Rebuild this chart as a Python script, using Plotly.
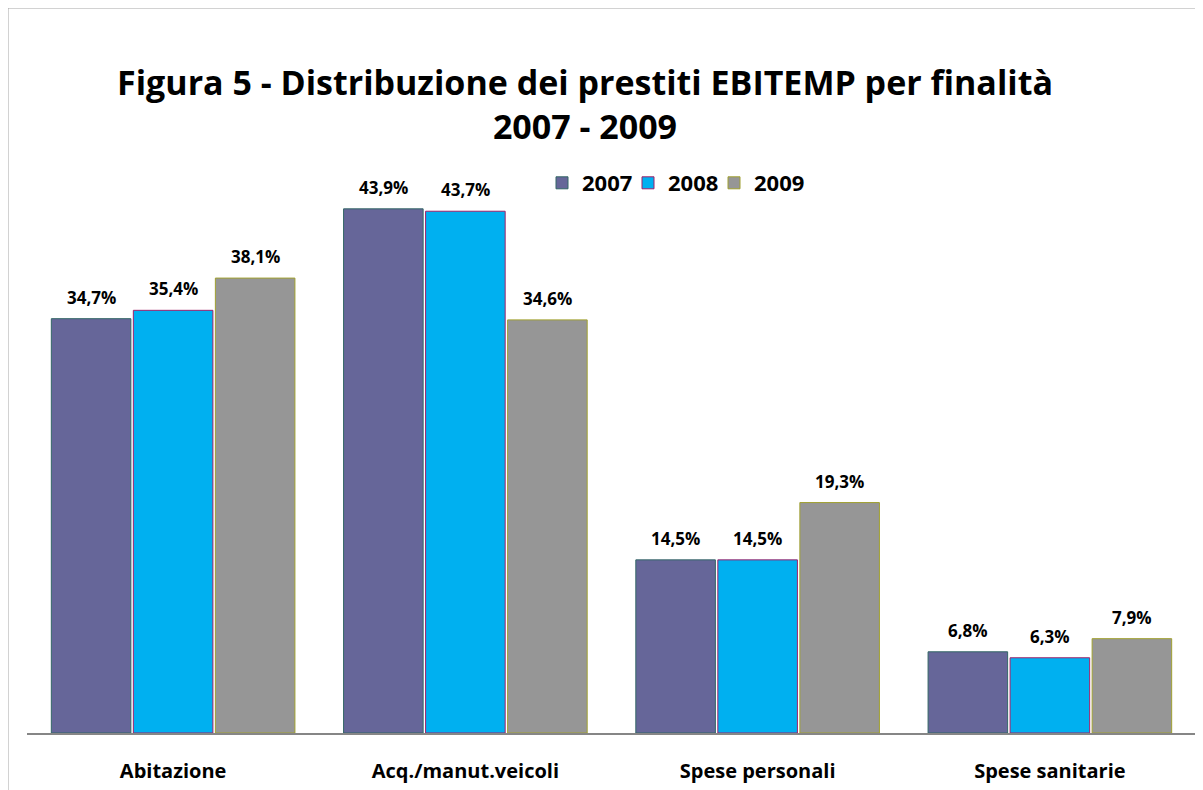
import plotly.graph_objects as go

categories = ["Abitazione", "Acq./manut.veicoli", "Spese personali", "Spese sanitarie"]
years = ["2007", "2008", "2009"]
v2007 = [34.7, 43.9, 14.5, 6.8]
v2008 = [35.4, 43.7, 14.5, 6.3]
v2009 = [38.1, 34.6, 19.3, 7.9]

fills = {"2007": "#666699", "2008": "#00B0F0", "2009": "#969696"}
borders = {"2007": "#336666", "2008": "#A0206A", "2009": "#A0A030"}
FONT = "'Open Sans', sans-serif"

W, H = 1203, 790
l, r, t, b = 19, 15, 128, 65
pw, ph = W - l - r, H - t - b

def px(x):
    return (x - l) / pw

def py(y):
    return (H - b - y) / ph

legend_names = ["legend", "legend2", "legend3"]
legend_x = [534, 620, 706]
shifts = [-82, 0, 82]

fig = go.Figure()
annotations = []
for i, (yr, vals) in enumerate(zip(years, [v2007, v2008, v2009])):
    fig.add_trace(go.Bar(
        name=yr, x=categories, y=vals,
        marker=dict(color=fills[yr], line=dict(color=borders[yr], width=1)),
        legend=legend_names[i], showlegend=True,
    ))
    for c, v in zip(categories, vals):
        annotations.append(dict(
            x=c, y=v, xref="x", yref="y", xshift=shifts[i], yshift=8,
            yanchor="bottom", xanchor="center", showarrow=False,
            text="<b>" + f"{v:.1f}%".replace(".", ",") + "</b>",
            font=dict(family=FONT, size=17, color="black"),
        ))

legend_common = dict(
    orientation="h", xanchor="left", yanchor="middle",
    font=dict(family=FONT, size=22, color="black", weight="bold"),
    bgcolor="rgba(0,0,0,0)", itemwidth=30, visible=True,
)
layout_legends = {}
for name, lx in zip(legend_names, legend_x):
    layout_legends[name] = dict(legend_common, x=px(lx), y=py(175))

fig.update_layout(
    width=W, height=H,
    margin=dict(l=l, r=r, t=t, b=b),
    paper_bgcolor="white", plot_bgcolor="white",
    showlegend=True,
    barmode="group", bargap=0.158, bargroupgap=0.03,
    font=dict(family=FONT, color="black"),
    title=dict(
        text="<b>Figura 5 - Distribuzione dei prestiti EBITEMP per finalità<br>2007 - 2009</b>",
        x=577 / W, xanchor="center", y=1 - 87 / H, yanchor="middle",
        font=dict(family=FONT, size=34, color="black"),
    ),
    xaxis=dict(
        showline=True, linecolor="#868686", linewidth=2,
        tickfont=dict(family=FONT, size=20, color="black"),
        ticks="", showgrid=False, ticklabelstandoff=19,
        tickprefix="<b>", ticksuffix="</b>",
    ),
    yaxis=dict(range=[0, 50], visible=False, showgrid=False, zeroline=False),
    annotations=annotations,
    shapes=[dict(
        type="rect", xref="paper", yref="paper",
        x0=px(0), x1=px(1215), y0=py(0), y1=py(800),
        line=dict(color="#A6A6A6", width=1), fillcolor="rgba(0,0,0,0)",
        layer="below",
    )],
    **layout_legends,
)

fig.write_html("out.html")
